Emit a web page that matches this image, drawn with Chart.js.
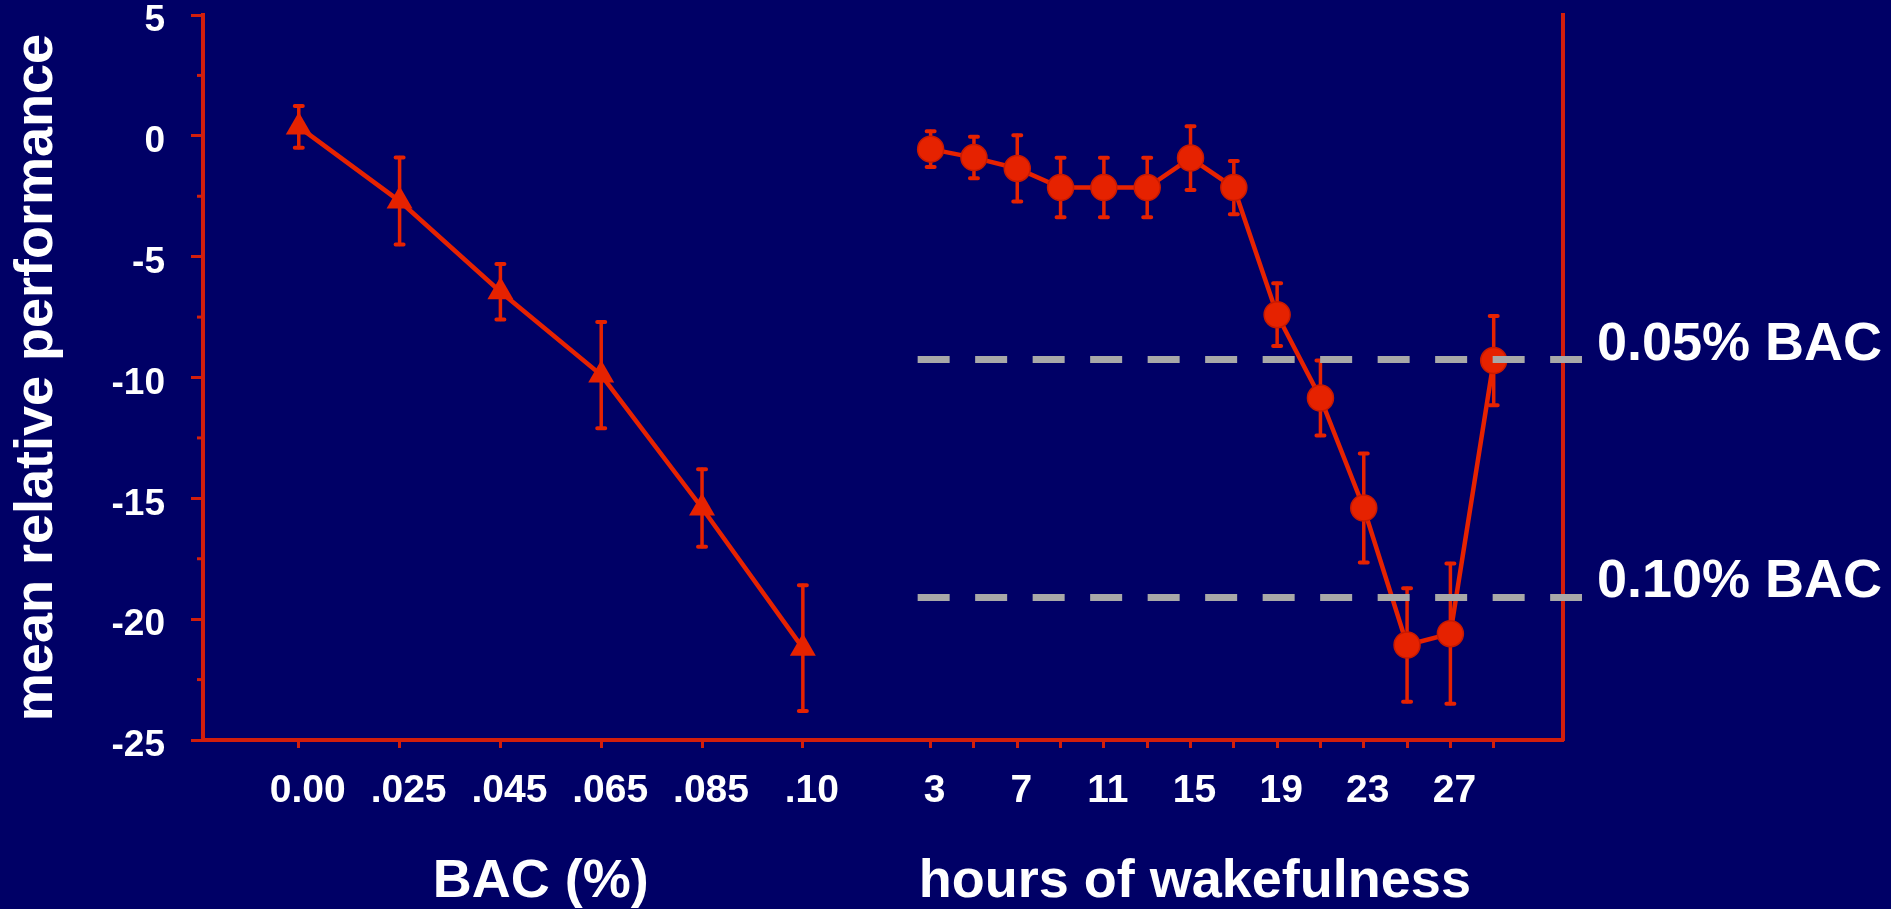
<!DOCTYPE html>
<html lang="en">
<head>
<meta charset="utf-8">
<title>BAC and wakefulness</title>
<script src="https://cdn.jsdelivr.net/npm/chart.js@4.4.1/dist/chart.umd.min.js"></script>
<style>
  html, body { margin: 0; padding: 0; background: #000066; }
  #wrap { position: relative; width: 1891px; height: 909px; }
</style>
</head>
<body>
<div id="wrap"><canvas id="chart"></canvas></div>
<script>
// BAC part
const bacLabels = ['0.00', '.025', '.045', '.065', '.085', '.10'];
const bacPerformance = [0.37, -2.7, -6.45, -9.9, -15.4, -21.2];
const bacError = [0.86, 1.8, 1.15, 2.2, 1.6, 2.6];

// wakefulness part
const wakeHours = [3, 5, 7, 9, 11, 13, 15, 17, 19, 21, 23, 25, 27, 29];
const wakePerformance = [-0.55, -0.9, -1.35, -2.14, -2.14, -2.14, -0.92, -2.14, -7.4, -10.85, -15.4, -21.07, -20.6, -9.3];
const wakeError = [0.74, 0.86, 1.37, 1.23, 1.23, 1.23, 1.32, 1.1, 1.3, 1.55, 2.26, 2.35, 2.9, 1.85];
const hourLabels = [3, 7, 11, 15, 19, 23, 27];

// reference levels
const bacLevels = [-9.26, -19.1];
const bacLevelLabels = ['0.05% BAC', '0.10% BAC'];

const yMin = -25;
const yMax = 5;
const yStep = 5;

const red = '#e62200';
const axisRed = '#d21e0c';
const white = '#ffffff';
const family = '"Liberation Sans", Arial, sans-serif';
Chart.defaults.font.family = family;

const noPadding = (s) => {
    s.paddingTop = 0;
    s.paddingBottom = 0;
    s.paddingLeft = 0;
    s.paddingRight = 0;
};

// vertical error bars with small caps, under the markers
const errorBars = {
    id: 'errorBars',
    beforeDatasetsDraw(chart) {
        const ctx = chart.ctx;
        const y = chart.scales.y;
        chart.data.datasets.forEach((ds, i) => {
            if (!ds.errors) return;
            const meta = chart.getDatasetMeta(i);
            ctx.save();
            ctx.strokeStyle = red;
            ctx.lineCap = 'round';
            meta.data.forEach((pt, j) => {
                const v = ds.data[j].y;
                const e = ds.errors[j];
                const top = y.getPixelForValue(v + e);
                const bot = y.getPixelForValue(v - e);
                ctx.lineWidth = 3.5;
                ctx.beginPath();
                ctx.moveTo(pt.x, top);
                ctx.lineTo(pt.x, bot);
                ctx.stroke();
                ctx.lineWidth = 4;
                ctx.beginPath();
                ctx.moveTo(pt.x - 4, top);
                ctx.lineTo(pt.x + 4, top);
                ctx.moveTo(pt.x - 4, bot);
                ctx.lineTo(pt.x + 4, bot);
                ctx.stroke();
            });
            ctx.restore();
        });
    }
};

// grey dashed BAC equivalence lines
const levelLines = {
    id: 'levelLines',
    afterDatasetsDraw(chart) {
        const { ctx, chartArea, scales } = chart;
        const x0 = scales.xHours.getPixelForValue(2.4);
        const x1 = chartArea.right + 19;
        ctx.save();
        ctx.strokeStyle = '#a8a8a8';
        ctx.lineWidth = 7;
        ctx.setLineDash([32, 25.5]);
        bacLevels.forEach(v => {
            const yy = scales.y.getPixelForValue(v);
            ctx.beginPath();
            ctx.moveTo(x0, yy);
            ctx.lineTo(x1, yy);
            ctx.stroke();
        });
        ctx.restore();
    }
};

// short minor ticks halfway between the labelled ones
const minorTicks = {
    id: 'minorTicks',
    afterDraw(chart) {
        const { ctx, chartArea, scales } = chart;
        ctx.save();
        ctx.strokeStyle = axisRed;
        ctx.lineWidth = 3;
        for (let v = yMin + yStep / 2; v < yMax; v += yStep) {
            const yy = scales.y.getPixelForValue(v);
            ctx.beginPath();
            ctx.moveTo(chartArea.left - 6, yy);
            ctx.lineTo(chartArea.left, yy);
            ctx.stroke();
        }
        ctx.restore();
    }
};

// the two x titles sit under their own half of the axis
const axisTitles = {
    id: 'axisTitles',
    afterDraw(chart) {
        const { ctx, chartArea, scales } = chart;
        const y = chartArea.bottom + 142;
        ctx.save();
        ctx.fillStyle = white;
        ctx.font = 'bold 54px ' + family;
        ctx.textAlign = 'center';
        ctx.textBaseline = 'middle';
        ctx.fillText('BAC (%)', scales.xBac.getPixelForValue(2.4), y);
        ctx.fillText('hours of wakefulness', scales.xHours.getPixelForValue(15.2), y);
        ctx.restore();
    }
};

const tickFont = { size: 39, weight: 'bold', lineHeight: 1.2 };

new Chart(document.getElementById('chart'), {
    type: 'line',
    data: {
        datasets: [{
            label: 'BAC',
            xAxisID: 'xBac',
            yAxisID: 'y',
            data: bacPerformance.map((v, i) => ({ x: i, y: v })),
            errors: bacError,
            borderColor: red,
            backgroundColor: red,
            borderWidth: 4.5,
            pointStyle: 'triangle',
            pointRadius: 15,
            pointBorderWidth: 0,
            pointBackgroundColor: red,
        }, {
            label: 'wakefulness',
            xAxisID: 'xHours',
            yAxisID: 'y',
            data: wakePerformance.map((v, i) => ({ x: wakeHours[i], y: v })),
            errors: wakeError,
            borderColor: red,
            backgroundColor: red,
            borderWidth: 4.5,
            pointStyle: 'circle',
            pointRadius: 13,
            pointBorderWidth: 1.5,
            pointBorderColor: '#c81a00',
            pointBackgroundColor: red,
        }]
    },
    options: {
        responsive: true,
        maintainAspectRatio: false,
        animation: false,
        layout: { padding: { top: 12, left: 0, right: 0, bottom: 0 } },
        plugins: {
            legend: { display: false },
            tooltip: { enabled: false },
        },
        scales: {
            xBac: {
                type: 'linear',
                position: 'bottom',
                min: -0.95,
                max: 12.54,
                afterBuildTicks: (s) => { s.ticks = bacLabels.map((_, i) => ({ value: i })); },
                afterFit: (s) => { s.height = 169; noPadding(s); },
                ticks: {
                    callback: (v) => bacLabels[v],
                    color: white,
                    font: tickFont,
                    padding: 20,
                    labelOffset: 9,
                    autoSkip: false,
                    maxRotation: 0,
                },
                grid: { drawOnChartArea: false, tickLength: 8, tickWidth: 3, tickColor: axisRed },
                border: { color: axisRed, width: 4 },
            },
            xHours: {
                type: 'linear',
                position: { y: yMin },
                min: -30.6,
                max: 32.2,
                afterBuildTicks: (s) => { s.ticks = wakeHours.map(h => ({ value: h })); },
                afterFit: noPadding,
                ticks: {
                    callback: (v) => hourLabels.includes(v) ? String(v) : '',
                    color: white,
                    font: tickFont,
                    padding: 20,
                    labelOffset: 4,
                    autoSkip: false,
                    maxRotation: 0,
                },
                grid: { drawOnChartArea: false, tickLength: 8, tickWidth: 3, tickColor: axisRed },
                border: { display: false },
            },
            y: {
                type: 'linear',
                position: 'left',
                min: yMin,
                max: yMax,
                ticks: {
                    stepSize: yStep,
                    color: white,
                    font: { size: 37, weight: 'bold', lineHeight: 0.7 },
                    padding: 26,
                    labelOffset: 6,
                },
                grid: { drawOnChartArea: false, tickLength: 12, tickWidth: 3, tickColor: axisRed },
                border: { color: axisRed, width: 4 },
                title: {
                    display: true,
                    text: 'mean relative performance',
                    color: white,
                    font: { size: 54, weight: 'bold', lineHeight: 1 },
                    padding: { top: 10, bottom: 0 },
                },
                afterFit: (s) => { s.width = 203; noPadding(s); },
            },
            y2: {
                type: 'linear',
                position: 'right',
                min: yMin,
                max: yMax,
                afterBuildTicks: (s) => { s.ticks = bacLevels.map(v => ({ value: v })); },
                afterFit: (s) => { s.width = 328; noPadding(s); },
                ticks: {
                    callback: (v, i) => bacLevelLabels[i],
                    color: white,
                    font: { size: 54, weight: 'bold', lineHeight: 0.7 },
                    padding: 34,
                    labelOffset: -15,
                },
                grid: { drawOnChartArea: false, drawTicks: false },
                border: { color: axisRed, width: 4 },
            },
        }
    },
    plugins: [errorBars, levelLines, minorTicks, axisTitles]
});
</script>
</body>
</html>
